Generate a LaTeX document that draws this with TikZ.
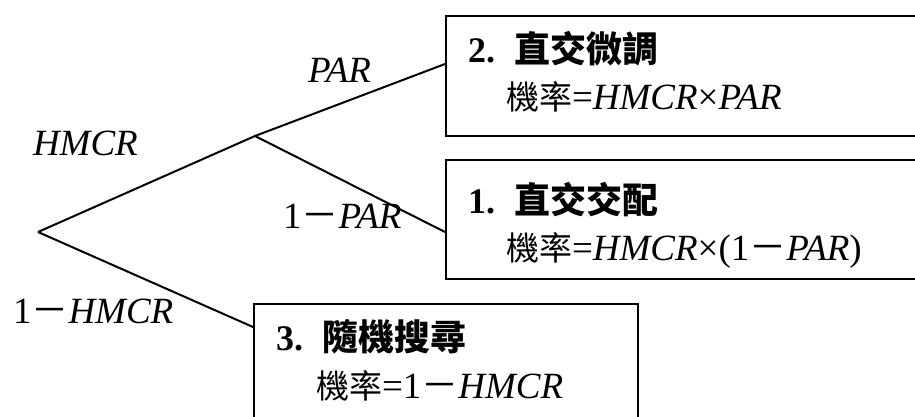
\documentclass[tikz,border=0pt]{standalone}
\usepackage{fontspec}
\setmainfont{Liberation Serif}
\newfontfamily\cjk{Noto Sans CJK TC}
\newcommand{\cm}{{\cjk －}}
\begin{document}
\begin{tikzpicture}[x=1pt,y=-1pt,line width=2pt,
  lab/.style={anchor=base west,inner sep=0pt,font=\fontsize{37}{40}\selectfont},
  boxshape/.style={draw,line width=2pt,anchor=north west,inner sep=0pt},
  head/.style={anchor=base west,inner sep=0pt,font=\fontsize{36}{40}\selectfont\bfseries},
  body/.style={anchor=base west,inner sep=0pt,font=\fontsize{37}{40}\selectfont}]
\useasboundingbox (0,0) rectangle (915,417);
\clip (0,0) rectangle (915,417);
% boxes
\node[boxshape,minimum width=490pt,minimum height=120pt] (b2) at (445,15) {};
\node[boxshape,minimum width=490pt,minimum height=119pt] (b1) at (445,159) {};
\node[boxshape,minimum width=384pt,minimum height=130pt] (b3) at (253,303) {};
% tree
\coordinate (r) at (38,232);
\coordinate (m) at (255,136);
\coordinate (e2) at (445,64);
\coordinate (e1) at (445,232);
\coordinate (e3) at (253,327);
\draw (r) -- (m) -- (e2);
\draw (m) -- (e1);
\draw (r) -- (e3);
% branch labels
\node[lab] (lpar) at (307,83) {\textit{PAR}};
\node[lab] (lhmcr) at (32,155) {\textit{HMCR}};
\node[lab] (lnpar) at (282,228) {1\cm\textit{PAR}};
\node[lab] (lnhmcr) at (12,323) {1\cm\textit{HMCR}};
% box texts
\node[head] (h2) at (467,63) {2.\hspace{19pt}{\cjk\fontsize{36}{40}\selectfont 直交微調}};
\node[body] (t2) at (505,110) {{\cjk\fontsize{33}{40}\selectfont 機率}=\textit{HMCR}×\textit{PAR}};
\node[head] (h1) at (467,213) {1.\hspace{19pt}{\cjk\fontsize{36}{40}\selectfont 直交交配}};
\node[body] (t1) at (505,260) {{\cjk\fontsize{33}{40}\selectfont 機率}=\textit{HMCR}×(1\cm\textit{PAR})};
\node[head] (h3) at (275,350) {3.\hspace{19pt}{\cjk\fontsize{36}{40}\selectfont 隨機搜尋}};
\node[body] (t3) at (315,398) {{\cjk\fontsize{33}{40}\selectfont 機率}=1\cm\textit{HMCR}};
\end{tikzpicture}
\end{document}
